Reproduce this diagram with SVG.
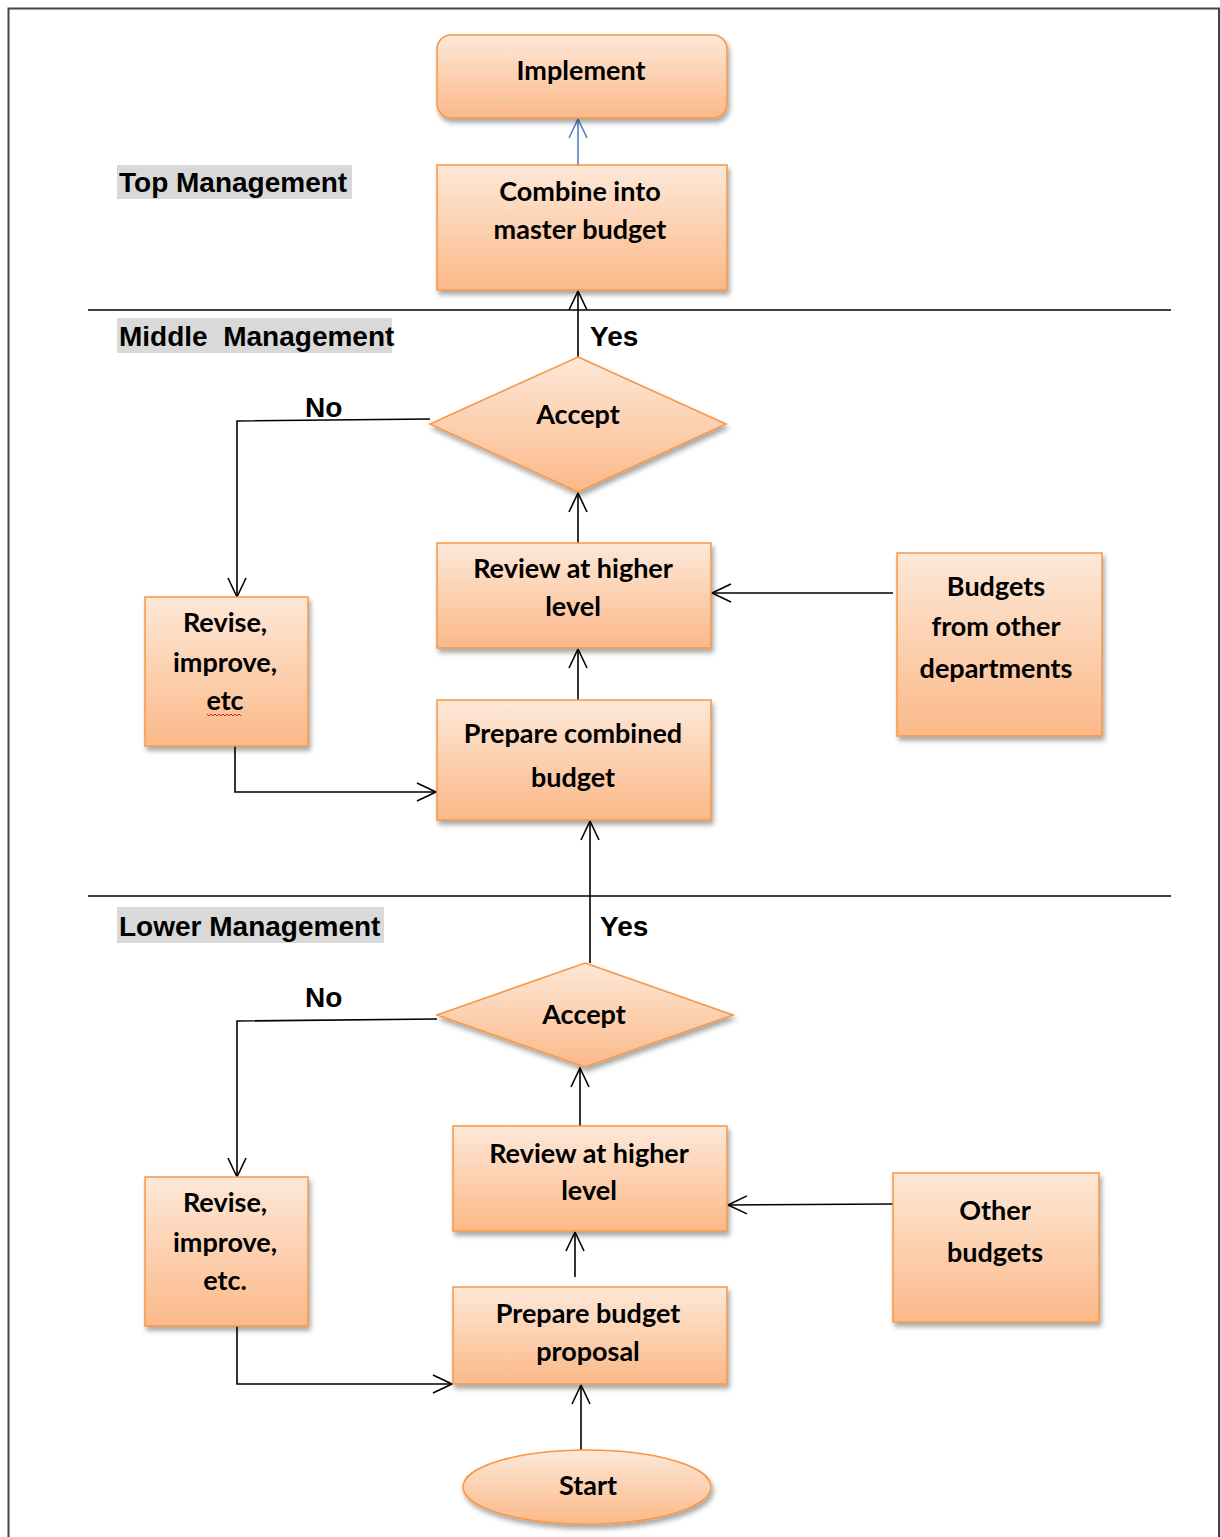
<svg xmlns="http://www.w3.org/2000/svg" width="1220" height="1537" viewBox="0 0 1220 1537">
  <style>
    .box { fill: url(#peach); stroke: #f79646; stroke-width: 1.5; filter: url(#shadow); }
    .lbl { font-family: Lato, "Open Sans", "Liberation Sans", sans-serif; font-weight: 700; font-size: 27px; fill: #000; text-anchor: middle; }
    .sec { font-family: "Liberation Sans", Arial, sans-serif; font-weight: 700; font-size: 28px; fill: #000; white-space: pre; }
    .secbg { fill: #d9d9d9; }
    .edge { fill: none; stroke: #000; stroke-width: 1.6; }
    .sep { stroke: #000; stroke-width: 1.5; }
  </style>
  <defs>
    <linearGradient id="peach" x1="0" y1="0" x2="0" y2="1">
      <stop offset="0" stop-color="#fde8d8"/>
      <stop offset="1" stop-color="#fbb988"/>
    </linearGradient>
    <filter id="shadow" x="-10%" y="-10%" width="125%" height="130%">
      <feDropShadow dx="2" dy="4" stdDeviation="2.5" flood-color="#000" flood-opacity="0.35"/>
    </filter>
    <marker id="open" markerUnits="userSpaceOnUse" markerWidth="24" markerHeight="22" viewBox="0 0 24 22" refX="21" refY="11" orient="auto">
      <path d="M2,2 L21,11 L2,20" fill="none" stroke="#000" stroke-width="1.6"/>
    </marker>
    <marker id="openBlue" markerUnits="userSpaceOnUse" markerWidth="24" markerHeight="22" viewBox="0 0 24 22" refX="21" refY="11" orient="auto">
      <path d="M2,2 L21,11 L2,20" fill="none" stroke="#4f81bd" stroke-width="1.6"/>
    </marker>
  </defs>

  <rect width="1220" height="1537" fill="#fff"/>
  <!-- page frame -->
  <path d="M1219,1537 V8.5 H8.5 V1537" fill="none" stroke="#444" stroke-width="2"/>

  <!-- level separators -->
  <line class="sep" x1="88" y1="310" x2="1171" y2="310"/>
  <line class="sep" x1="88" y1="896" x2="1171" y2="896"/>

  <!-- level captions -->
  <g id="level-top">
    <rect class="secbg" x="117" y="165" width="235" height="34"/>
    <text class="sec" x="119" y="192">Top Management</text>
  </g>
  <g id="level-middle">
    <rect class="secbg" x="117" y="318" width="275" height="35"/>
    <text class="sec" x="119" y="346">Middle  Management</text>
  </g>
  <g id="level-lower">
    <rect class="secbg" x="117" y="907" width="267" height="36"/>
    <text class="sec" x="119" y="936">Lower Management</text>
  </g>

  <!-- connectors -->
  <g id="connectors">
    <line x1="578" y1="165" x2="578" y2="119" fill="none" stroke="#4f81bd" stroke-width="1.6" marker-end="url(#openBlue)"/>
    <line class="edge" x1="578" y1="357" x2="578" y2="291" marker-end="url(#open)"/>
    <line class="edge" x1="578" y1="543" x2="578" y2="493" marker-end="url(#open)"/>
    <line class="edge" x1="578" y1="700" x2="578" y2="649" marker-end="url(#open)"/>
    <polyline class="edge" points="430,419 237,421 237,597" marker-end="url(#open)"/>
    <polyline class="edge" points="235,746 235,792 436,792" marker-end="url(#open)"/>
    <line class="edge" x1="893" y1="593" x2="712" y2="593" marker-end="url(#open)"/>
    <line class="edge" x1="590" y1="963" x2="590" y2="821" marker-end="url(#open)"/>
    <polyline class="edge" points="437,1019 237,1021 237,1177" marker-end="url(#open)"/>
    <line class="edge" x1="580" y1="1126" x2="580" y2="1068" marker-end="url(#open)"/>
    <line class="edge" x1="575" y1="1277" x2="575" y2="1232" marker-end="url(#open)"/>
    <line class="edge" x1="893" y1="1204" x2="728" y2="1205" marker-end="url(#open)"/>
    <polyline class="edge" points="237,1326 237,1384 452,1384" marker-end="url(#open)"/>
    <line class="edge" x1="581" y1="1450" x2="581" y2="1385" marker-end="url(#open)"/>
  </g>

  <!-- branch labels -->
  <g id="branch-labels">
    <text class="sec" x="590" y="346">Yes</text>
    <text class="sec" x="305" y="417">No</text>
    <text class="sec" x="600" y="936">Yes</text>
    <text class="sec" x="305" y="1007">No</text>
  </g>

  <!-- top management -->
  <g id="implement">
    <rect class="box" x="437" y="35" width="290" height="83" rx="14"/>
    <text class="lbl" x="581" y="80">Implement</text>
  </g>
  <g id="combine">
    <rect class="box" x="437" y="165" width="290" height="125"/>
    <text class="lbl" x="580" y="201">Combine into</text>
    <text class="lbl" x="580" y="239">master budget</text>
  </g>

  <!-- middle management -->
  <g id="accept-middle">
    <polygon class="box" points="578,357 726,424 578,492 430,424"/>
    <text class="lbl" x="578" y="424">Accept</text>
  </g>
  <g id="review-middle">
    <rect class="box" x="437" y="543" width="274" height="105"/>
    <text class="lbl" x="573" y="578">Review at higher</text>
    <text class="lbl" x="573" y="616">level</text>
  </g>
  <g id="budgets-other-departments">
    <rect class="box" x="897" y="553" width="205" height="183"/>
    <text class="lbl" x="996" y="596">Budgets</text>
    <text class="lbl" x="996" y="636">from other</text>
    <text class="lbl" x="996" y="678">departments</text>
  </g>
  <g id="prepare-combined">
    <rect class="box" x="437" y="700" width="274" height="120"/>
    <text class="lbl" x="573" y="743">Prepare combined</text>
    <text class="lbl" x="573" y="787">budget</text>
  </g>
  <g id="revise-middle">
    <rect class="box" x="145" y="597" width="163" height="149"/>
    <text class="lbl" x="225" y="632">Revise,</text>
    <text class="lbl" x="225" y="672">improve,</text>
    <text class="lbl" x="225" y="710">etc</text>
    <path d="M207,714 l2,2 l2,-2 l2,2 l2,-2 l2,2 l2,-2 l2,2 l2,-2 l2,2 l2,-2 l2,2 l2,-2 l2,2 l2,-2 l2,2 l2,-2 l2,2" fill="none" stroke="#e02020" stroke-width="1"/>
  </g>

  <!-- lower management -->
  <g id="accept-lower">
    <polygon class="box" points="585,963 733,1015 585,1067 437,1015"/>
    <text class="lbl" x="584" y="1024">Accept</text>
  </g>
  <g id="review-lower">
    <rect class="box" x="453" y="1126" width="274" height="105"/>
    <text class="lbl" x="589" y="1163">Review at higher</text>
    <text class="lbl" x="589" y="1200">level</text>
  </g>
  <g id="other-budgets">
    <rect class="box" x="893" y="1173" width="206" height="149"/>
    <text class="lbl" x="995" y="1220">Other</text>
    <text class="lbl" x="995" y="1262">budgets</text>
  </g>
  <g id="revise-lower">
    <rect class="box" x="145" y="1177" width="163" height="149"/>
    <text class="lbl" x="225" y="1212">Revise,</text>
    <text class="lbl" x="225" y="1252">improve,</text>
    <text class="lbl" x="225" y="1290">etc.</text>
  </g>
  <g id="prepare-proposal">
    <rect class="box" x="453" y="1287" width="274" height="97"/>
    <text class="lbl" x="588" y="1323">Prepare budget</text>
    <text class="lbl" x="588" y="1361">proposal</text>
  </g>
  <g id="start">
    <ellipse class="box" cx="587" cy="1487" rx="124" ry="37"/>
    <text class="lbl" x="588" y="1495">Start</text>
  </g>
</svg>
